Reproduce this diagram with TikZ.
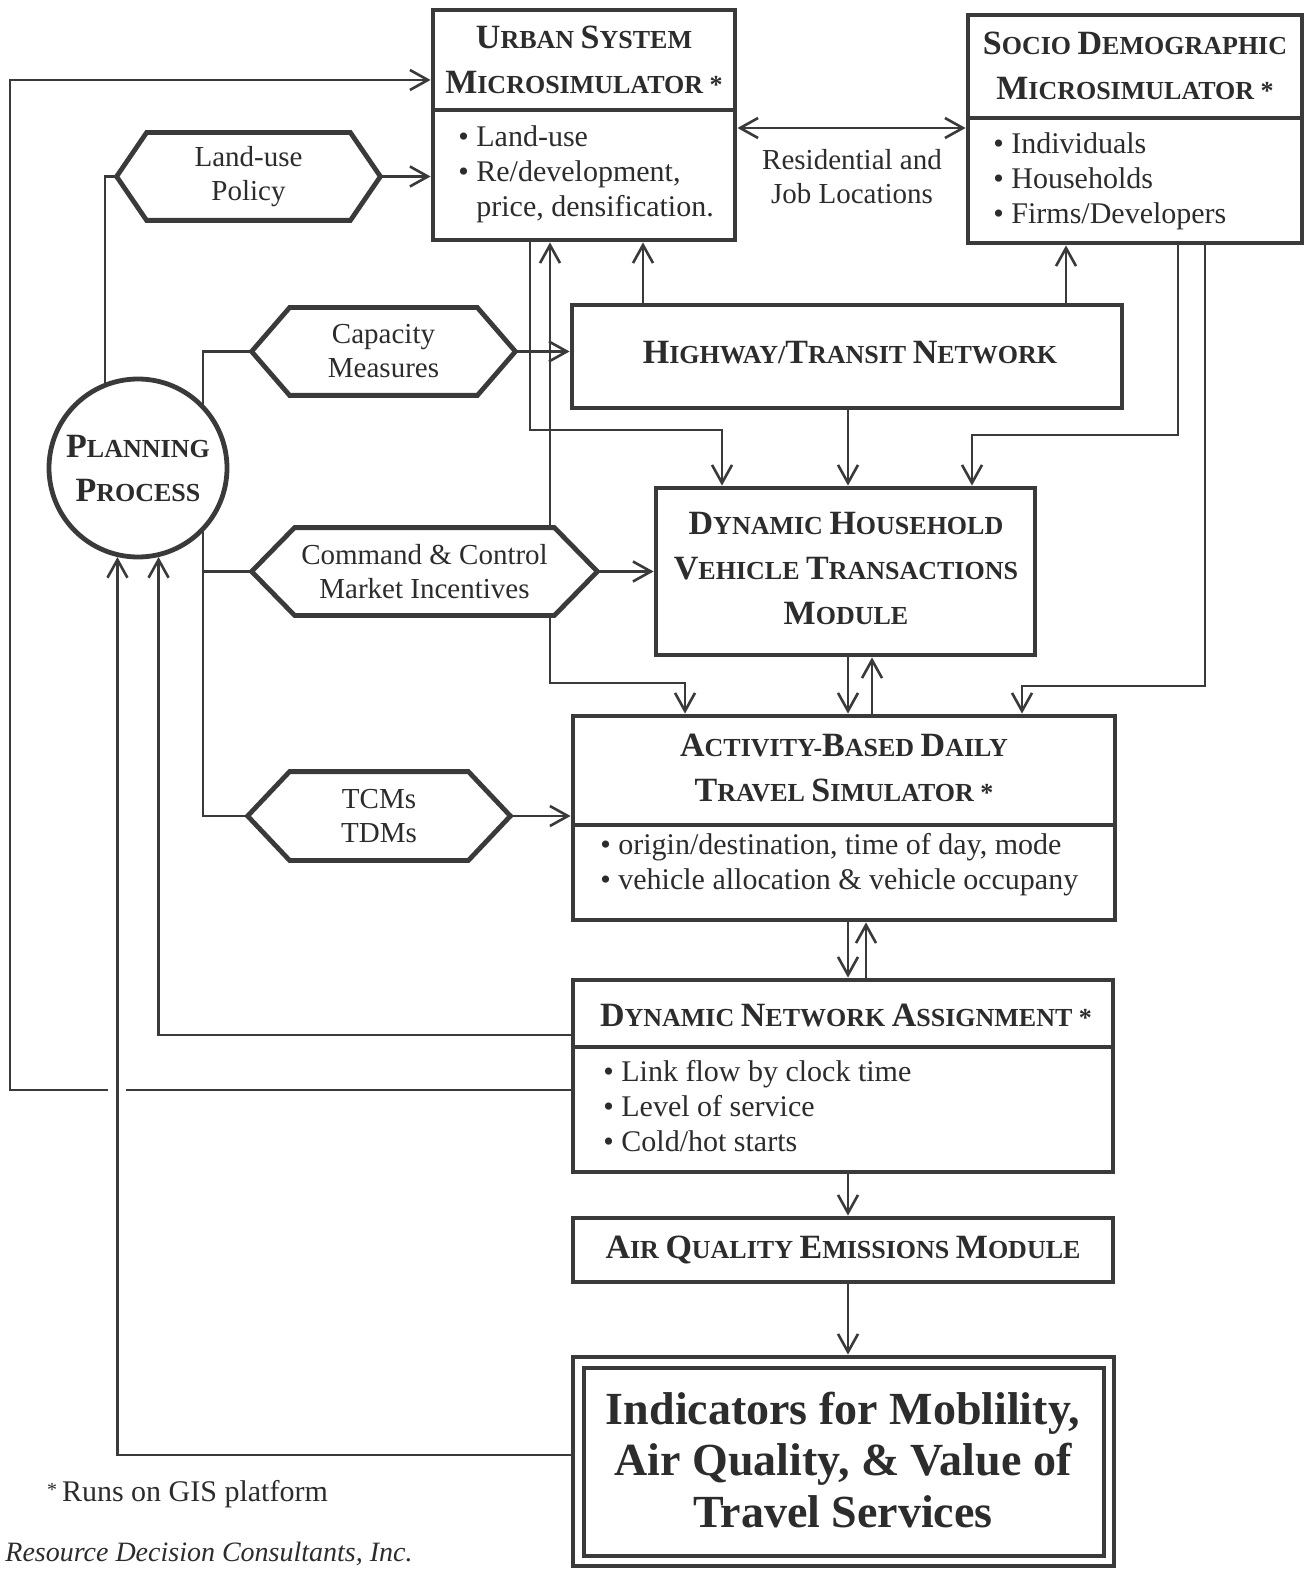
\documentclass[tikz,border=0pt]{standalone}
\usepackage{fontspec}
\setmainfont{Liberation Serif}
\usetikzlibrary{arrows.meta,fit}
\pgfdeclarelayer{paper}
\pgfdeclarelayer{bg}
\pgfdeclarelayer{mid}
\pgfsetlayers{paper,bg,mid,main}
\definecolor{ink}{HTML}{3A3A3A}
\definecolor{txt}{HTML}{2C2C2C}
\newcommand\Bc[1]{{\fontsize{17}{22.5}\selectfont #1}}
\newcommand\hexdraw[2]{\draw[hexline] (#1.west) -- ([xshift=#2]#1.north west) -- ([xshift=-#2]#1.north east) -- (#1.east) -- ([xshift=-#2]#1.south east) -- ([xshift=#2]#1.south west) -- cycle;}
\begin{document}
\begin{tikzpicture}[x=0.5pt,y=-0.5pt,
  box/.style={draw=ink, line width=2.4pt, inner sep=0pt},
  hexn/.style={inner sep=0pt, align=center, text=txt, font=\fontsize{14.5}{17}\selectfont},
  hexline/.style={draw=ink, line width=2.4pt, fill=white, line join=miter},
  head/.style={align=center, text=txt, font=\fontsize{13}{22.5}\selectfont\bfseries},
  body/.style={align=left, text=txt, font=\fontsize{15}{17.4}\selectfont, inner sep=0pt},
  conn/.style={draw=ink, line width=1.3pt},
  arr/.style={conn, -{Straight Barb[length=9pt,width=10pt]}},
  darr/.style={conn, {Straight Barb[length=9pt,width=10pt]}-{Straight Barb[length=9pt,width=10pt]}}
]
\useasboundingbox (0,0) rectangle (1314,1572);
\begin{pgfonlayer}{paper}
\fill[white] (0,0) rectangle (1314,1572);
\end{pgfonlayer}

% ---------- boxes ----------
\node[box, fit={(433,10)(735,240)}] (us) {};
\draw[box] (us.west |- 0,110) -- (us.east |- 0,110);
\node[head] (ust) at (584,60) {\Bc{U}RBAN \Bc{S}YSTEM\\\Bc{M}ICROSIMULATOR *};
\node[body, anchor=west] (usb) at (458,174) {\textbullet\ Land-use\\\textbullet\ Re/development,\\\phantom{\textbullet\ }price, densification.};

\node[box, fit={(968,15)(1302,243)}] (sd) {};
\draw[box] (sd.west |- 0,118) -- (sd.east |- 0,118);
\node[head] (sdt) at (1135,66) {\Bc{S}OCIO \Bc{D}EMOGRAPHIC\\\Bc{M}ICROSIMULATOR *};
\node[body, anchor=west] (sdb) at (993,181) {\textbullet\ Individuals\\\textbullet\ Households\\\textbullet\ Firms/Developers};

\node[text=txt, align=center, font=\fontsize{14.5}{17}\selectfont] (rj) at (852,177) {Residential and\\Job Locations};

\node[box, fit={(572,305)(1122,408)}] (hw) {};
\node[head] (hwt) at (850,353) {\Bc{H}IGHWAY/\Bc{T}RANSIT \Bc{N}ETWORK};

\node[box, fit={(656,488)(1035,655)}] (dh) {};
\node[head] (dht) at (846,568) {\Bc{D}YNAMIC \Bc{H}OUSEHOLD\\\Bc{V}EHICLE \Bc{T}RANSACTIONS\\\Bc{M}ODULE};

\node[box, fit={(573,716)(1115,920)}] (ab) {};
\draw[box] (ab.west |- 0,825) -- (ab.east |- 0,825);
\node[head] (abt) at (844,768) {\Bc{A}CTIVITY-\Bc{B}ASED \Bc{D}AILY\\\Bc{T}RAVEL \Bc{S}IMULATOR *};
\node[body, anchor=west] (abb) at (600,865) {\textbullet\ origin/destination, time of day, mode\\\textbullet\ vehicle allocation \& vehicle occupany};

\node[box, fit={(573,980)(1113,1172)}] (dna) {};
\draw[box] (dna.west |- 0,1047) -- (dna.east |- 0,1047);
\node[head] (dnat) at (846,1015) {\Bc{D}YNAMIC \Bc{N}ETWORK \Bc{A}SSIGNMENT *};
\node[body, anchor=west] (dnab) at (603,1106) {\textbullet\ Link flow by clock time\\\textbullet\ Level of service\\\textbullet\ Cold/hot starts};

\node[box, fit={(573,1218)(1113,1282)}] (aq) {};
\node[head] (aqt) at (843,1250) {\Bc{A}IR \Bc{Q}UALITY \Bc{E}MISSIONS \Bc{M}ODULE};

\node[box, fit={(573,1357)(1114,1566)}] (ind) {};
\node[box, line width=1.8pt, fit={(584,1368)(1104,1556)}] (indin) {};
\node[align=center, text=txt, font=\fontsize{23}{25.8}\selectfont\bfseries] (indt) at (843,1460) {Indicators for Moblility,\\Air Quality, \& Value of\\Travel Services};

% ---------- planning circle ----------
\node[circle, draw=ink, line width=2.4pt, fill=white, minimum size=89pt, inner sep=0pt, head, font=\fontsize{13}{22}\selectfont\bfseries] (pp) at (138,468) {\Bc{P}LANNING\\\Bc{P}ROCESS};

% ---------- hexagons ----------
\node[hexn, minimum width=131.5pt, minimum height=43.5pt] (lu) at (248.5,176.5) {Land-use\\Policy};
\node[hexn, minimum width=131.5pt, minimum height=43.5pt] (cap) at (383.5,351.5) {Capacity\\Measures};
\node[hexn, minimum width=172.5pt, minimum height=43.5pt] (cmd) at (424.5,571.5) {Command \& Control\\Market Incentives};
\node[hexn, minimum width=131pt, minimum height=44pt] (tcm) at (379,816) {TCMs\\TDMs};
\begin{pgfonlayer}{mid}
\hexdraw{lu}{15pt}
\hexdraw{cap}{19pt}
\hexdraw{cmd}{21.5pt}
\hexdraw{tcm}{21pt}
\end{pgfonlayer}

% ---------- footnotes ----------
\node[anchor=west, text=txt, font=\fontsize{15}{17}\selectfont] (fn) at (40,1494) {\raisebox{0.35ex}{\fontsize{10}{10}\selectfont*}\,Runs on GIS platform};
\node[anchor=base west, text=txt, inner sep=0pt, font=\fontsize{14}{16}\selectfont\itshape] (rdc) at (5,1561) {Resource Decision Consultants, Inc.};

% ---------- connectors ----------
\begin{pgfonlayer}{bg}
\draw[conn] (pp.center -| 105,0) |- (lu.west);
\draw[arr] (lu.east) -- (us.west |- lu.east);
\draw[arr] (dna.west |- 0,1090) -- (126,1090) (108,1090) -- (10,1090) |- (us.west |- 0,80);
\draw[arr] (dna.west |- 0,1035) -| (pp.-77);
\draw[arr] (ind.west |- 0,1455) -| (pp.-103.5);
\draw[conn] (cap.west) -- (cap.west -| 203,0) -- (tcm.west -| 203,0) -- (tcm.west);
\draw[conn] (cmd.west -| 203,0) -- (cmd.west);
\draw[arr] (cap.east) -- (hw.west |- cap.east);
\draw[arr] (cmd.east) -- (dh.west |- cmd.east);
\draw[arr] (tcm.east) -- (ab.west |- tcm.east);
\draw[arr] (hw.north -| 643,0) -- (us.south -| 643,0);
\draw[arr] (hw.north -| 1066,0) -- (sd.south -| 1066,0);
\draw[darr] (us.east |- 0,128) -- (sd.west |- 0,128);
\draw[arr] (us.south -| 530,0) -- (530,430) -| (dh.north -| 722,0);
\draw[arr] (cmd.north -| 550,0) -- (us.south -| 550,0);
\draw[arr] (cmd.south -| 550,0) -- (550,683) -| (ab.north -| 685,0);
\draw[arr] (hw.south -| 848,0) -- (dh.north -| 848,0);
\draw[arr] (sd.south -| 1178,0) -- (1178,435) -| (dh.north -| 972,0);
\draw[arr] (sd.south -| 1205,0) -- (1205,686) -| (ab.north -| 1022,0);
\draw[arr] (dh.south -| 848,0) -- (ab.north -| 848,0);
\draw[arr] (ab.north -| 872,0) -- (dh.south -| 872,0);
\draw[arr] (ab.south -| 848,0) -- (dna.north -| 848,0);
\draw[arr] (dna.north -| 866,0) -- (ab.south -| 866,0);
\draw[arr] (dna.south -| 848,0) -- (aq.north -| 848,0);
\draw[arr] (aq.south -| 848,0) -- (ind.north -| 848,0);
\end{pgfonlayer}
\end{tikzpicture}
\end{document}
